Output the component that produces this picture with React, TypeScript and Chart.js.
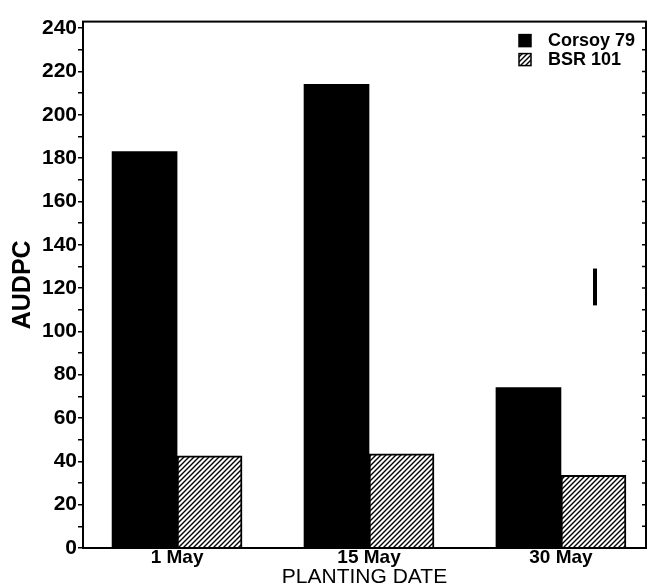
import { useEffect, useRef } from "react";
import { Chart, registerables } from "chart.js";

Chart.register(...registerables);

const categories = ["1 May", "15 May", "30 May"];
const seriesLabels = ["Corsoy 79", "BSR 101"];
const corsoy79 = [183, 214, 74];
const bsr101 = [42.5, 43.5, 33.5];
const lsdRange = [112, 129];
const yTickValues = [0, 10, 20, 30, 40, 50, 60, 70, 80, 90, 100, 110, 120, 130, 140, 150, 160, 170, 180, 190, 200, 210, 220, 230, 240];
const yMax = 243;
const xMin = -0.49;
const xMax = 2.443;

const FONT = "'Liberation Sans', Arial, Helvetica, sans-serif";

function makeHatch(ctx: CanvasRenderingContext2D): CanvasPattern | string {
  const c = document.createElement("canvas");
  const s = 5;
  c.width = s;
  c.height = s;
  const g = c.getContext("2d");
  if (!g) return "#888";
  g.fillStyle = "#fff";
  g.fillRect(0, 0, s, s);
  g.strokeStyle = "#000";
  g.lineWidth = 1.4;
  g.beginPath();
  g.moveTo(-1, s + 1);
  g.lineTo(s + 1, -1);
  g.moveTo(-1, 1);
  g.lineTo(1, -1);
  g.moveTo(s - 1, s + 1);
  g.lineTo(s + 1, s - 1);
  g.stroke();
  return ctx.createPattern(c, "repeat") || "#888";
}

export default function App() {
  const ref = useRef<HTMLCanvasElement | null>(null);

  useEffect(() => {
    const canvas = ref.current;
    if (!canvas) return;
    const ctx = canvas.getContext("2d");
    if (!ctx) return;
    const hatch = makeHatch(ctx);

    const framePlugin = {
      id: "frame",
      afterDatasetsDraw(chart: any) {
        const { ctx: c, chartArea: a, scales } = chart;
        const y = scales.y;
        c.save();
        c.strokeStyle = "#000";
        c.lineWidth = 2;
        c.strokeRect(a.left, a.top, a.right - a.left, a.bottom - a.top);
        // inward ticks on right border
        c.lineWidth = 1.5;
        c.beginPath();
        for (const v of yTickValues) {
          const py = y.getPixelForValue(v);
          c.moveTo(a.right - 4, py);
          c.lineTo(a.right, py);
        }
        c.stroke();
        // LSD bar
        c.lineWidth = 4;
        c.beginPath();
        const lx = a.right - 51;
        c.moveTo(lx, y.getPixelForValue(lsdRange[0]));
        c.lineTo(lx, y.getPixelForValue(lsdRange[1]));
        c.stroke();
        // legend
        const fills = ["#000", hatch];
        c.font = `bold 18px ${FONT}`;
        c.textBaseline = "middle";
        c.textAlign = "left";
        for (let i = 0; i < seriesLabels.length; i++) {
          const top = a.top + 13 + i * 19;
          c.fillStyle = fills[i] as any;
          c.fillRect(a.right - 127, top, 12, 12);
          c.lineWidth = 1.5;
          c.strokeRect(a.right - 127, top, 12, 12);
          c.fillStyle = "#000";
          c.fillText(seriesLabels[i], a.right - 98, top + 6);
        }
        c.restore();
      },
    };

    const chart = new Chart(ctx, {
      type: "bar",
      data: {
        datasets: [
          {
            label: seriesLabels[0],
            data: corsoy79.map((v, i) => ({ x: i, y: v })),
            backgroundColor: "#000",
            borderColor: "#000",
            borderWidth: 0,
          },
          {
            label: seriesLabels[1],
            data: bsr101.map((v, i) => ({ x: i, y: v })),
            backgroundColor: hatch as any,
            borderColor: "#000",
            borderWidth: 2,
          },
        ],
      },
      options: {
        animation: false,
        responsive: false,
        barThickness: 65,
        layout: { padding: { left: 0, right: 10, top: 7, bottom: 0 } },
        plugins: {
          legend: { display: false },
          tooltip: { enabled: false },
        },
        scales: {
          x: {
            type: "linear",
            offset: false,
            min: xMin,
            max: xMax,
            afterBuildTicks: (scale: any) => {
              scale.ticks = categories.map((_, i) => ({ value: i }));
            },
            afterFit: (scale: any) => {
              scale.height = 40;
            },
            grid: { display: false, drawTicks: false, offset: false },
            border: { display: false },
            ticks: {
              autoSkip: false,
              padding: 0,
              color: "#000",
              font: { family: FONT, size: 19, weight: "bold", lineHeight: 1 },
              callback: (v: any) => categories[Math.round(Number(v))] ?? "",
            },
            title: {
              display: true,
              text: "PLANTING DATE",
              color: "#000",
              padding: { top: 0, bottom: 0 },
              font: { family: FONT, size: 21, weight: "normal", lineHeight: 1 },
            },
          },
          y: {
            type: "linear",
            min: 0,
            max: yMax,
            afterBuildTicks: (scale: any) => {
              scale.ticks = yTickValues.map((v) => ({ value: v }));
            },
            afterFit: (scale: any) => {
              scale.width = 75;
            },
            grid: {
              display: true,
              drawOnChartArea: false,
              drawTicks: true,
              tickLength: 5,
              color: "#000",
              lineWidth: 1.5,
            },
            border: { display: false },
            ticks: {
              autoSkip: false,
              padding: 1,
              color: "#000",
              font: { family: FONT, size: 21, weight: "bold" },
              callback: (v: any) => (Number(v) % 20 === 0 ? String(v) : ""),
            },
            title: {
              display: true,
              text: "AUDPC",
              color: "#000",
              padding: { top: 0, bottom: 0 },
              font: { family: FONT, size: 25, weight: "bold" },
            },
          },
        },
      } as any,
      plugins: [framePlugin],
    });

    return () => chart.destroy();
  }, []);

  return (
    <div style={{ width: 648, height: 580 }}>
      <canvas ref={ref} width={648} height={580} style={{ display: "block", width: 648, height: 580 }} />
    </div>
  );
}
